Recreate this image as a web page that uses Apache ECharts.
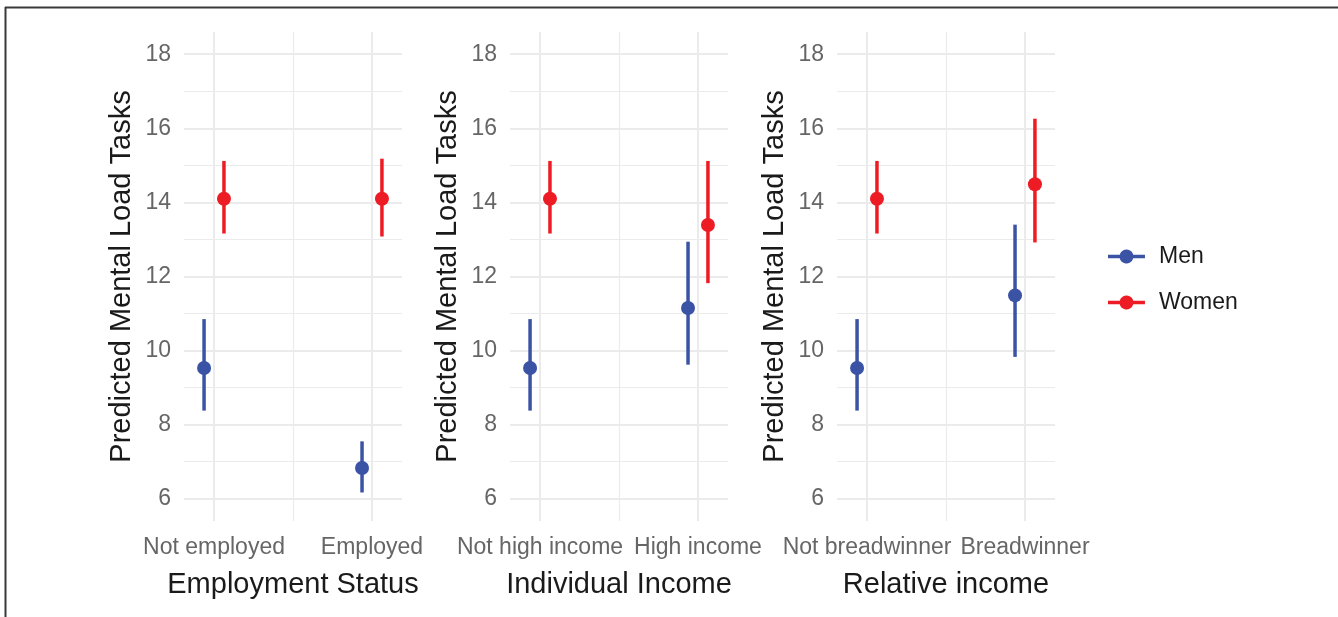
<!DOCTYPE html>
<html>
<head>
<meta charset="utf-8">
<script src="https://cdn.jsdelivr.net/npm/echarts@6/dist/echarts.min.js"></script>
<style>
    html, body { margin: 0; padding: 0; background: #fff; }
    #chart { width: 1338px; height: 617px; }
</style>
</head>
<body>
<div id="chart"></div>
<script>
// panel titles and category labels
var panelTitles = ['Employment Status', 'Individual Income', 'Relative income'];
var categories = [
    ['Not employed', 'Employed'],
    ['Not high income', 'High income'],
    ['Not breadwinner', 'Breadwinner']
];
// predicted values with lower / upper bounds, one row per panel
var menFit = [[9.53, 6.83], [9.53, 11.15], [9.53, 11.49]];
var menLow = [[8.38, 6.17], [8.38, 9.62], [8.38, 9.83]];
var menHigh = [[10.85, 7.55], [10.85, 12.94], [10.85, 13.40]];
var womenFit = [[14.10, 14.10], [14.10, 13.39], [14.10, 14.49]];
var womenLow = [[13.16, 13.08], [13.16, 11.82], [13.16, 12.92]];
var womenHigh = [[15.12, 15.18], [15.12, 15.12], [15.12, 16.26]];
// axis ticks
var yTicks = [6, 8, 10, 12, 14, 16, 18];
var yMinor = [7, 9, 11, 13, 15, 17];
var catPos = [1, 2];
var catMinor = [1.5];

var chart = echarts.init(document.getElementById('chart'));
var font = '"Liberation Sans", Arial, Helvetica, sans-serif';
var MEN = '#3a53a4';
var WOMEN = '#ed1c24';
var GRID = '#ebebeb';
var dodge = 0.063;

// 误差线 + 点
function renderItem(params, api) {
    var x = api.value(0);
    var p = api.coord([x, api.value(1)]);
    var lo = api.coord([x, api.value(2)]);
    var hi = api.coord([x, api.value(3)]);
    var color = api.visual('color');
    return {
        type: 'group',
        children: [
            { type: 'line', shape: { x1: lo[0], y1: lo[1], x2: hi[0], y2: hi[1] }, style: { stroke: color, lineWidth: 3.5 } },
            { type: 'circle', shape: { cx: p[0], cy: p[1], r: 7 }, style: { fill: color } }
        ]
    };
}

function rows(fit, low, high, offset) {
    return catPos.map(function (c, j) {
        return [c + offset, fit[j], low[j], high[j]];
    });
}

var gridLefts = [184, 510, 837];
var grids = [], xAxes = [], yAxes = [], series = [];

gridLefts.forEach(function (left, i) {
    grids.push({ left: left, top: 32, width: 218, height: 489 });
    xAxes.push({
        gridIndex: i, type: 'value', min: 0.81, max: 2.19,
        name: panelTitles[i], nameLocation: 'middle', nameGap: 49,
        nameTextStyle: { fontSize: 29, color: '#1a1a1a', fontFamily: font },
        axisLine: { show: false }, axisTick: { show: false }, splitLine: { show: false },
        axisLabel: {
            customValues: catPos, margin: 15, fontSize: 23, color: '#666', fontFamily: font,
            formatter: function (v) { return categories[i][Math.round(v) - 1]; }
        }
    });
    yAxes.push({
        gridIndex: i, type: 'value', min: 5.4, max: 18.6,
        name: 'Predicted Mental Load Tasks', nameLocation: 'middle', nameGap: 48,
        nameTextStyle: { fontSize: 29, color: '#1a1a1a', fontFamily: font },
        axisLine: { show: false }, axisTick: { show: false }, splitLine: { show: false },
        axisLabel: { customValues: yTicks, margin: 13, fontSize: 23, color: '#666', fontFamily: font }
    });

    var lines = [];
    yTicks.forEach(function (v) { lines.push({ yAxis: v, lineStyle: { width: 2 } }); });
    yMinor.forEach(function (v) { lines.push({ yAxis: v, lineStyle: { width: 1.2 } }); });
    catPos.forEach(function (v) { lines.push({ xAxis: v, lineStyle: { width: 2 } }); });
    catMinor.forEach(function (v) { lines.push({ xAxis: v, lineStyle: { width: 1.2 } }); });

    series.push({
        name: 'Men', type: 'custom', xAxisIndex: i, yAxisIndex: i,
        itemStyle: { color: MEN },
        renderItem: renderItem,
        data: rows(menFit[i], menLow[i], menHigh[i], -dodge),
        markLine: {
            silent: true, z: 1, symbol: 'none', label: { show: false },
            lineStyle: { color: GRID, type: 'solid' },
            emphasis: { disabled: true },
            data: lines
        }
    });
    series.push({
        name: 'Women', type: 'custom', xAxisIndex: i, yAxisIndex: i,
        itemStyle: { color: WOMEN },
        renderItem: renderItem,
        data: rows(womenFit[i], womenLow[i], womenHigh[i], dodge)
    });
});

var keyIcon = 'path://M0,5.5H11.72A7,7 0 0 1 25.28,5.5H37V9H25.28A7,7 0 0 1 11.72,9H0Z';

chart.setOption({
    animation: false,
    backgroundColor: '#fff',
    grid: grids,
    xAxis: xAxes,
    yAxis: yAxes,
    legend: {
        orient: 'vertical', left: 1103, top: 240, itemWidth: 37, itemHeight: 14, itemGap: 23,
        selectedMode: false,
        textStyle: { fontSize: 23, color: '#1a1a1a', fontFamily: font, padding: [0, 0, 0, 9] },
        data: [
            { name: 'Men', icon: keyIcon, itemStyle: { color: MEN } },
            { name: 'Women', icon: keyIcon, itemStyle: { color: WOMEN } }
        ]
    },
    graphic: [
        { type: 'line', shape: { x1: 5, y1: 7.5, x2: 1338, y2: 7.5 }, style: { stroke: '#3a3a3a', lineWidth: 2 } },
        { type: 'line', shape: { x1: 5.5, y1: 7, x2: 5.5, y2: 617 }, style: { stroke: '#3a3a3a', lineWidth: 2 } }
    ],
    series: series
});
</script>
</body>
</html>
